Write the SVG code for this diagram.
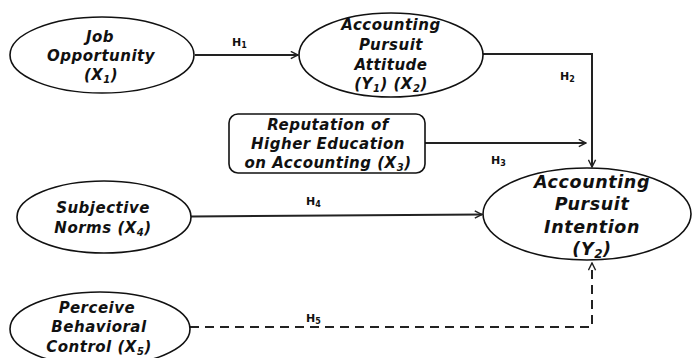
<svg xmlns="http://www.w3.org/2000/svg" width="692" height="358" viewBox="0 0 692 358">
<defs>
<marker id="ah" viewBox="0 0 10 10" refX="9" refY="5" markerWidth="9" markerHeight="9" markerUnits="userSpaceOnUse" orient="auto">
<path d="M1,1 L9,5 L1,9" fill="none" stroke="#222" stroke-width="1.6"/>
</marker>
<style>
.n{fill:#fff;stroke:#111;stroke-width:1.6}
.t{font-family:"DejaVu Sans",Verdana,sans-serif;font-weight:bold;font-style:italic;font-size:15px;fill:#111;text-anchor:middle;letter-spacing:0.5px}
.b{font-size:17.5px;letter-spacing:0.6px}
.s{font-size:10px}
.c{stroke:#222;stroke-width:2;fill:none}
.d{stroke-dasharray:9,6}
.h{font-family:"DejaVu Sans",Verdana,sans-serif;font-weight:bold;font-size:11px;fill:#111}
.hs{font-size:8px}
</style>
</defs>
<rect width="692" height="358" fill="#fff"/>
<g id="connectors">
<line class="c" x1="195" y1="55" x2="298" y2="55" marker-end="url(#ah)"/>
<polyline class="c" points="483,54 592,54 592,167" marker-end="url(#ah)"/>
<line class="c" x1="425" y1="143" x2="586" y2="143" marker-end="url(#ah)"/>
<line class="c" x1="191" y1="216.5" x2="482" y2="214.5" marker-end="url(#ah)"/>
<polyline class="c d" points="190,327 592,327 592,263" marker-end="url(#ah)"/>
<text class="h" x="232" y="46">H<tspan class="hs" dy="2">1</tspan></text>
<text class="h" x="560" y="80">H<tspan class="hs" dy="2">2</tspan></text>
<text class="h" x="491" y="164">H<tspan class="hs" dy="2">3</tspan></text>
<text class="h" x="306" y="205">H<tspan class="hs" dy="2">4</tspan></text>
<text class="h" x="306" y="322">H<tspan class="hs" dy="2">5</tspan></text>
</g>
<g id="job">
<ellipse class="n" cx="102" cy="55" rx="92" ry="38"/>
<text class="t" x="100" y="42">Job</text>
<text class="t" x="101" y="61">Opportunity</text>
<text class="t" x="101" y="80">(X<tspan class="s" dy="3">1</tspan><tspan dy="-3">)</tspan></text>
</g>
<g id="attitude">
<ellipse class="n" cx="391" cy="55" rx="92" ry="42"/>
<text class="t" x="391" y="30">Accounting</text>
<text class="t" x="391" y="50">Pursuit</text>
<text class="t" x="391" y="70">Attitude</text>
<text class="t" x="391" y="89">(Y<tspan class="s" dy="3">1</tspan><tspan dy="-3">) (X</tspan><tspan class="s" dy="3">2</tspan><tspan dy="-3">)</tspan></text>
</g>
<g id="reputation">
<rect class="n" x="229" y="114" width="196" height="59" rx="9"/>
<text class="t" x="328" y="130">Reputation of</text>
<text class="t" x="328" y="149">Higher Education</text>
<text class="t" x="328" y="168">on Accounting (X<tspan class="s" dy="3">3</tspan><tspan dy="-3">)</tspan></text>
</g>
<g id="intention">
<ellipse class="n" cx="587" cy="214" rx="104" ry="46"/>
<text class="t b" x="592" y="188">Accounting</text>
<text class="t b" x="592" y="210">Pursuit</text>
<text class="t b" x="592" y="233">Intention</text>
<text class="t b" x="592" y="255">(Y<tspan class="s" dy="3" style="font-size:12px">2</tspan><tspan dy="-3">)</tspan></text>
</g>
<g id="subjective">
<ellipse class="n" cx="104" cy="217" rx="87" ry="36"/>
<text class="t" x="103" y="213">Subjective</text>
<text class="t" x="103" y="233">Norms (X<tspan class="s" dy="3">4</tspan><tspan dy="-3">)</tspan></text>
</g>
<g id="control">
<ellipse class="n" cx="100" cy="329" rx="90" ry="37"/>
<text class="t" x="97" y="313">Perceive</text>
<text class="t" x="99" y="332">Behavioral</text>
<text class="t" x="99" y="352">Control (X<tspan class="s" dy="3">5</tspan><tspan dy="-3">)</tspan></text>
</g>
</svg>
